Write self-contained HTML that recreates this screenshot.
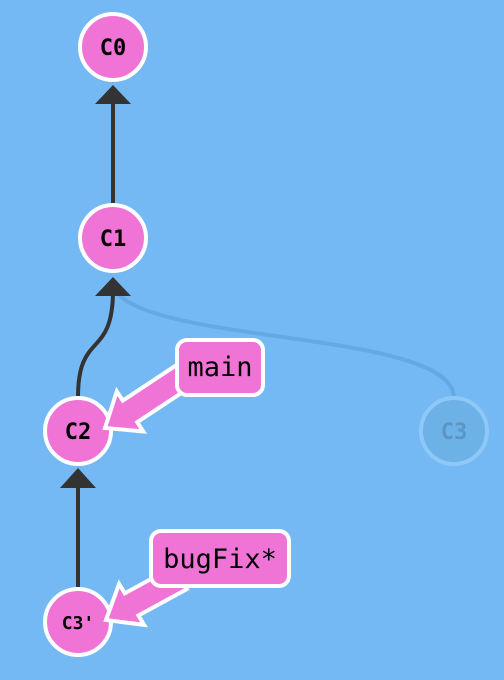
<!DOCTYPE html>
<html><head><style>
html,body{margin:0;padding:0;background:#74b9f4;}
svg{display:block}
text{font-family:"DejaVu Sans Mono","Liberation Mono",monospace;}
</style></head><body>
<svg width="504" height="680" viewBox="0 0 504 680" xmlns="http://www.w3.org/2000/svg">
<rect width="504" height="680" fill="#74b9f4"/>
<path d="M454,398 C454,330 150,345 115,290" fill="none" stroke="#5a9fd6" stroke-width="4" opacity="0.6"/>
<line x1="113" y1="203" x2="113" y2="100" stroke="#333" stroke-width="4"/>
<polygon points="113,85 131,104 95,104" fill="#333"/>
<path d="M78,397 C78,330 113,360 113,290" fill="none" stroke="#333" stroke-width="4"/>
<polygon points="113,277 131,296 95,296" fill="#333"/>
<line x1="78" y1="588" x2="78" y2="484" stroke="#333" stroke-width="4"/>
<polygon points="78,468 96,488 60,488" fill="#333"/>
<g stroke="#fff" stroke-width="4" fill="#ef74d5">
<circle cx="113" cy="47" r="33"/>
<circle cx="113" cy="238" r="33"/>
<circle cx="78" cy="431" r="33"/>
<circle cx="78" cy="622" r="33"/>
</g>
<circle cx="454" cy="431" r="33" fill="#6cb2e6" stroke="#8ec8f6" stroke-width="4"/>
<g font-weight="bold" font-size="22" text-anchor="middle" fill="#000">
<text x="113" y="55">C0</text>
<text x="113" y="246">C1</text>
<text x="78" y="439">C2</text>
<text x="78" y="629" font-size="18">C3'</text>
<text x="454" y="439" fill="#5a95c4">C3</text>
</g>
<polygon points="192.2,385.8 137.2,422.2 143.2,431.4 105,428 116.8,391.4 122.8,400.6 177.8,364.2" fill="#ef74d5" stroke="#fff" stroke-width="4" stroke-linejoin="miter"/>
<polygon points="186.8,589.1 138.4,615.5 144.1,624.9 106,620 119.1,583.9 124.8,593.3 173.2,566.9" fill="#ef74d5" stroke="#fff" stroke-width="4" stroke-linejoin="miter"/>
<rect x="177" y="340" width="86" height="55" rx="10" fill="#ef74d5" stroke="#fff" stroke-width="4"/>
<text x="220" y="376" font-size="27" text-anchor="middle" fill="#000">main</text>
<rect x="151" y="531" width="138" height="55" rx="10" fill="#ef74d5" stroke="#fff" stroke-width="4"/>
<text x="220" y="568" font-size="27" text-anchor="middle" fill="#000">bugFix*</text>
</svg>
</body></html>
